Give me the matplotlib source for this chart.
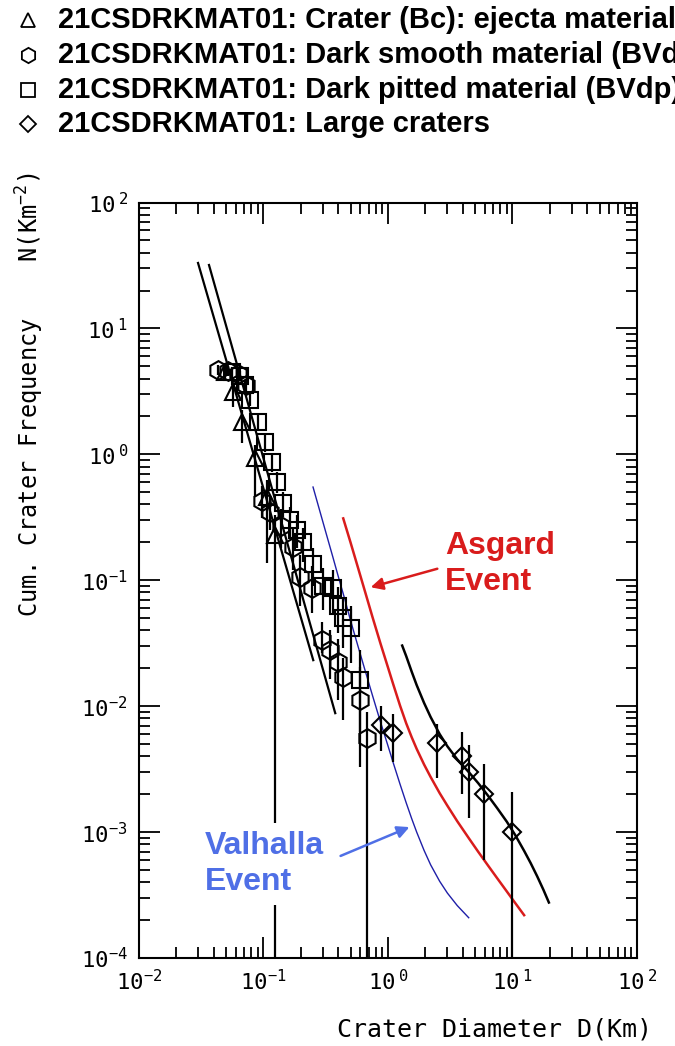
import numpy as np
import matplotlib.pyplot as plt
from matplotlib.lines import Line2D
from matplotlib.ticker import LogLocator, NullFormatter

plt.rcParams['mathtext.fontset'] = 'custom'
plt.rcParams['mathtext.rm'] = 'DejaVu Sans Mono'
plt.rcParams['mathtext.it'] = 'DejaVu Sans Mono'
plt.rcParams['mathtext.bf'] = 'DejaVu Sans Mono'

# legend entries (marker, label)
legend_markers = ['^', 'h', 's', 'D']
legend_labels = ['21CSDRKMAT01: Crater (Bc): ejecta material',
                 '21CSDRKMAT01: Dark smooth material (BVds)',
                 '21CSDRKMAT01: Dark pitted material (BVdp)',
                 '21CSDRKMAT01: Large craters']

# Crater (Bc): ejecta material - triangles
bc_d = [0.049, 0.057, 0.067, 0.086, 0.107, 0.124]
bc_n = [4.5, 3.1, 1.8, 0.93, 0.46, 0.23]
bc_hi = [5.1, 3.6, 2.25, 1.19, 0.62, 0.33]
bc_lo = [3.9, 2.37, 1.23, 0.46, 0.137, 1e-5]

# Dark smooth material (BVds) - hexagons
ds_d = [0.0432, 0.0519, 0.0625, 0.0724, 0.0975, 0.113, 0.139, 0.173,
        0.197, 0.246, 0.296, 0.343, 0.398, 0.436, 0.598, 0.681]
ds_n = [4.68, 4.59, 4.34, 3.55, 0.43, 0.35, 0.27, 0.184,
        0.106, 0.087, 0.0335, 0.0279, 0.0224, 0.0170, 0.0112, 0.00558]
ds_hi = [5.1, 5.0, 4.8, 4.0, 0.56, 0.46, 0.37, 0.26,
         0.16, 0.13, 0.047, 0.040, 0.034, 0.024, 0.0204, 0.0090]
ds_lo = [4.3, 4.2, 3.9, 3.1, 0.31, 0.25, 0.18, 0.12,
         0.062, 0.055, 0.0264, 0.0163, 0.0112, 0.0077, 0.0033, 1e-5]

# Dark pitted material (BVdp) - squares
dp_d = [0.056, 0.0649, 0.0711, 0.078, 0.0906, 0.103, 0.117, 0.129, 0.144, 0.164,
        0.186, 0.208, 0.251, 0.301, 0.362, 0.398, 0.436, 0.506, 0.598]
dp_n = [4.50, 4.19, 3.55, 2.70, 1.81, 1.25, 0.868, 0.603, 0.410, 0.301,
        0.251, 0.201, 0.135, 0.090, 0.0867, 0.0624, 0.0501, 0.0417, 0.0161]
dp_hi = [4.9, 4.6, 3.9, 3.0, 2.05, 1.45, 1.02, 0.72, 0.50, 0.38,
         0.33, 0.26, 0.18, 0.125, 0.12, 0.088, 0.072, 0.062, 0.028]
dp_lo = [4.1, 3.8, 3.2, 2.4, 1.6, 1.05, 0.72, 0.49, 0.32, 0.22,
         0.18, 0.14, 0.09, 0.058, 0.055, 0.038, 0.029, 0.022, 0.0062]

# Large craters - diamonds
lc_d = [0.88, 1.10, 2.49, 3.95, 4.45, 5.9, 10.0]
lc_n = [0.0071, 0.0061, 0.0051, 0.0040, 0.0030, 0.0020, 0.0010]
lc_hi = [0.0100, 0.0086, 0.0072, 0.0062, 0.0049, 0.0035, 0.0021]
lc_lo = [0.0044, 0.0036, 0.0027, 0.0020, 0.0013, 0.0006, 1e-5]

# fitted lines
fit_a_d = [0.0298, 0.251]
fit_a_n = [33.1, 0.0232]
fit_b_d = [0.0365, 0.377]
fit_b_n = [31.9, 0.0088]
fit_lc_d = [1.30, 1.40, 1.55, 1.70, 1.95, 2.20, 2.60, 3.00, 3.60, 4.45, 5.3,
            6.3, 7.5, 9.0, 10.5, 12.4, 14.0, 15.8, 17.7, 19.6]
fit_lc_n = [0.0303, 0.0250, 0.0188, 0.0147, 0.0106, 0.0082, 0.0060, 0.0048,
            0.00378, 0.00300, 0.00245, 0.00197, 0.00156, 0.00121, 9.5e-4,
            7.1e-4, 5.67e-4, 4.45e-4, 3.49e-4, 2.76e-4]

# Valhalla / Asgard event curves
val_d = [0.25, 0.28, 0.32, 0.36, 0.40, 0.45, 0.50, 0.57, 0.65, 0.75, 0.87, 1.00,
         1.10, 1.25, 1.40, 1.55, 1.70, 1.95, 2.20, 2.60, 3.00, 3.60, 4.45]
val_n = [0.55, 0.370, 0.232, 0.154, 0.106, 0.0706, 0.048, 0.0307, 0.0197, 0.0122,
         0.0075, 0.00484, 0.00357, 0.00240, 0.00171, 0.00128, 0.00100, 7.15e-4,
         5.5e-4, 4.07e-4, 3.28e-4, 2.61e-4, 2.09e-4]
asg_d = [0.437, 0.50, 0.57, 0.65, 0.75, 0.87, 1.00, 1.10, 1.25, 1.40, 1.55, 1.70,
         1.95, 2.20, 2.60, 3.00, 3.60, 4.45, 5.3, 6.3, 7.5, 9.0, 10.5, 12.4]
asg_n = [0.31, 0.20, 0.129, 0.083, 0.0512, 0.0315, 0.0203, 0.0150, 0.0101, 0.00732,
         0.00567, 0.00458, 0.00344, 0.00274, 0.00204, 0.00162, 0.00122, 8.97e-4,
         6.99e-4, 5.50e-4, 4.33e-4, 3.38e-4, 2.74e-4, 2.19e-4]

xtick_vals = [1e-2, 1e-1, 1e0, 1e1, 1e2]
xtick_labels = ['$10^{-2}$', '$10^{-1}$', '$10^{\\ 0}$', '$10^{\\ 1}$', '$10^{\\ 2}$']
ytick_vals = [1e-4, 1e-3, 1e-2, 1e-1, 1e0, 1e1, 1e2]
ytick_labels = ['$10^{-4}$', '$10^{-3}$', '$10^{-2}$', '$10^{-1}$', '$10^{\\ 0}$', '$10^{\\ 1}$', '$10^{\\ 2}$']

RED = '#d91c1c'
NAVY = '#1f1fa8'
LBLUE = '#4f6fe6'

fig = plt.figure(figsize=(6.75, 10.46), dpi=100)
ax = fig.add_axes([0.2059, 0.0841, 0.7378, 0.7223])
ax.set_xscale('log')
ax.set_yscale('log')


def draw(d, n, lo, hi, marker, ms):
    n = np.array(n)
    yerr = [n - np.array(lo), np.array(hi) - n]
    ax.errorbar(d, n, yerr=yerr, fmt=marker, ms=ms, mfc='none', mec='k',
                mew=1.5, ecolor='k', elinewidth=1.6, capsize=0, zorder=3)


ax.plot(fit_a_d, fit_a_n, color='k', lw=1.6)
ax.plot(fit_b_d, fit_b_n, color='k', lw=1.6)
ax.plot(fit_lc_d, fit_lc_n, color='k', lw=1.8)
ax.plot(val_d, val_n, color=NAVY, lw=1.0)
ax.plot(asg_d, asg_n, color=RED, lw=1.8)

draw(bc_d, bc_n, bc_lo, bc_hi, '^', 12)
draw(ds_d, ds_n, ds_lo, ds_hi, 'h', 13.5)
draw(dp_d, dp_n, dp_lo, dp_hi, 's', 11)
draw(lc_d, lc_n, lc_lo, lc_hi, 'D', 9.5)

ax.set_xlim(1e-2, 1e2)
ax.set_ylim(1e-4, 1e2)
ax.set_xticks(xtick_vals)
ax.set_xticklabels(xtick_labels)
ax.set_yticks(ytick_vals)
ax.set_yticklabels(ytick_labels)
ax.xaxis.set_minor_locator(LogLocator(base=10, subs=np.arange(2, 10), numticks=20))
ax.yaxis.set_minor_locator(LogLocator(base=10, subs=np.arange(2, 10), numticks=20))
ax.xaxis.set_minor_formatter(NullFormatter())
ax.yaxis.set_minor_formatter(NullFormatter())
ax.tick_params(which='both', direction='in', top=True, right=True, width=1.3, color='k')
ax.tick_params(which='major', length=15, labelsize=16, pad=8)
ax.tick_params(which='minor', length=8)
for lab in ax.get_xticklabels() + ax.get_yticklabels():
    lab.set_family('DejaVu Sans Mono')
for s in ax.spines.values():
    s.set_linewidth(1.5)

# legend at top
row_y = [20, 55, 90, 124]
for mk, lab, y in zip(legend_markers, legend_labels, row_y):
    fy = 1 - y / 1046
    sz = {'^': 10, 'h': 11, 's': 9.5, 'D': 8}[mk]
    fig.add_artist(Line2D([28 / 675], [fy], marker=mk, ms=sz, mfc='none', mec='k',
                          mew=1.3, ls='none', transform=fig.transFigure))
    fig.text(58 / 675, fy, lab, fontsize=21, fontweight='bold',
             family='Liberation Sans', va='center', ha='left')

# event labels
fig.text(445 / 675, 1 - 531 / 1046, 'Asgard\nEvent', color=RED, fontsize=23,
         fontweight='bold', family='Liberation Sans', va='top', ha='left', linespacing=1.25)
ax.annotate('', xy=(368 / 675, 1 - 588 / 1046), xytext=(440 / 675, 1 - 568 / 1046),
            xycoords='figure fraction', textcoords='figure fraction',
            arrowprops=dict(arrowstyle='-|>', color=RED, lw=1.8, mutation_scale=18))
fig.text(205 / 675, 1 - 831 / 1046, 'Valhalla\nEvent', color=LBLUE, fontsize=23,
         fontweight='bold', family='Liberation Sans', va='top', ha='left', linespacing=1.25,
         bbox=dict(facecolor='white', edgecolor='none', pad=6), zorder=5)
ax.annotate('', xy=(412 / 675, 1 - 826 / 1046), xytext=(338 / 675, 1 - 857 / 1046),
            xycoords='figure fraction', textcoords='figure fraction',
            arrowprops=dict(arrowstyle='-|>', color=LBLUE, lw=1.8, mutation_scale=18))

fig.text(495 / 675, 1 - 1030 / 1046, 'Crater Diameter D(Km)', fontsize=18,
         family='DejaVu Sans Mono', ha='center', va='center')
fig.text(30 / 675, 1 - 395 / 1046, 'Cum. Crater Frequency    N(Km$^{-2}$)', fontsize=17,
         family='DejaVu Sans Mono', ha='center', va='center', rotation=90)

fig.savefig('out.png', dpi=100)
